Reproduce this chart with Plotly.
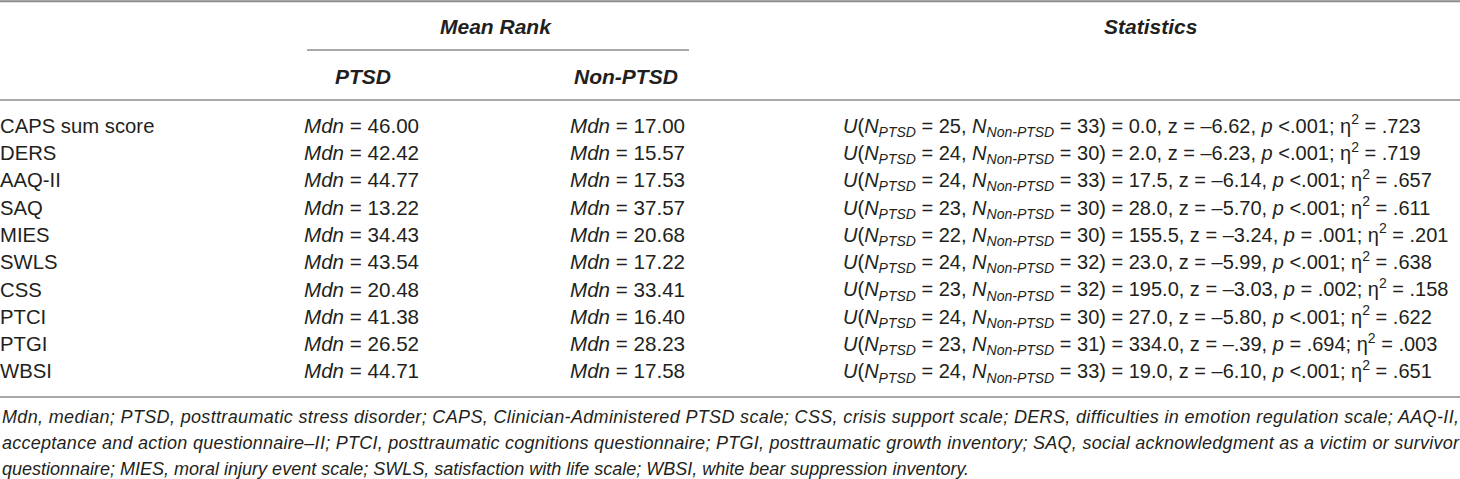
import plotly.graph_objects as go

W, H = 1460, 479

# ---- data ----
measures = ["CAPS sum score", "DERS", "AAQ-II", "SAQ", "MIES", "SWLS", "CSS", "PTCI", "PTGI", "WBSI"]
mdn_ptsd = [46.00, 42.42, 44.77, 13.22, 34.43, 43.54, 20.48, 41.38, 26.52, 44.71]
mdn_non_ptsd = [17.00, 15.57, 17.53, 37.57, 20.68, 17.22, 33.41, 16.40, 28.23, 17.58]
n_ptsd = [25, 24, 24, 23, 22, 24, 23, 24, 23, 24]
n_non_ptsd = [33, 30, 33, 30, 30, 32, 32, 30, 31, 33]
u_values = [0.0, 2.0, 17.5, 28.0, 155.5, 23.0, 195.0, 27.0, 334.0, 19.0]
z_values = [-6.62, -6.23, -6.14, -5.70, -3.24, -5.99, -3.03, -5.80, -0.39, -6.10]
p_values = ["<.001", "<.001", "<.001", "<.001", "= .001", "<.001", "= .002", "<.001", "= .694", "<.001"]
eta_sq = [0.723, 0.719, 0.657, 0.611, 0.201, 0.638, 0.158, 0.622, 0.003, 0.651]

header_group = "Mean Rank"
header_stats = "Statistics"
header_cols = ["PTSD", "Non-PTSD"]
footnote_lines = [
    "Mdn, median; PTSD, posttraumatic stress disorder; CAPS, Clinician-Administered PTSD scale; CSS, crisis support scale; DERS, difficulties in emotion regulation scale; AAQ-II,",
    "acceptance and action questionnaire–II; PTCI, posttraumatic cognitions questionnaire; PTGI, posttraumatic growth inventory; SAQ, social acknowledgment as a victim or survivor",
    "questionnaire; MIES, moral injury event scale; SWLS, satisfaction with life scale; WBSI, white bear suppression inventory.",
]

# ---- formatting ----
def fnum(v, nd):
    s = f"{abs(v):.{nd}f}"
    if abs(v) < 1:
        s = s[1:]
    return ("–" if v < 0 else "") + s

mdn_p_txt = [f"<i>Mdn</i> = {v:.2f}" for v in mdn_ptsd]
mdn_n_txt = [f"<i>Mdn</i> = {v:.2f}" for v in mdn_non_ptsd]
stats_txt = [
    f"<i>U</i>(<i>N<sub>PTSD</sub></i> = {a}, <i>N<sub>Non-PTSD</sub></i> = {b}) = {u:.1f}, z = {fnum(z, 2)}, "
    f"<i>p</i> {p}; η<sup>2</sup> = {fnum(e, 3)}"
    for a, b, u, z, p, e in zip(n_ptsd, n_non_ptsd, u_values, z_values, p_values, eta_sq)
]

FONT = "Liberation Sans"
TXT = "#231f20"
RULE = "#a8a8a8"

fig = go.Figure()
col_x = [0, 304, 570, 843]
col_fs = [20.3, 20.6, 20.6, 20.0]
for cx, fs, txt in zip(col_x, col_fs, [measures, mdn_p_txt, mdn_n_txt, stats_txt]):
    fig.add_trace(go.Scatter(
        x=[cx] * len(measures), y=measures, text=txt, mode="text",
        textposition="middle right", hoverinfo="skip", showlegend=False,
        textfont=dict(family=FONT, size=fs, color=TXT),
    ))

def py(ypx):
    return 1 - ypx / H

# headers
for txt, x, y in [(header_group, 496, 26), (header_stats, 1150, 26),
                  (header_cols[0], 363, 76), (header_cols[1], 626, 76)]:
    fig.add_annotation(x=x, y=py(y), xref="x", yref="paper", text=f"<b><i>{txt}</i></b>",
                       showarrow=False, xanchor="center", yanchor="middle",
                       font=dict(family=FONT, size=21, color=TXT))

# footnote
for i, line in enumerate(footnote_lines):
    fig.add_annotation(x=0, y=py(417 + 26 * i), xref="x", yref="paper", text=f"<i>{line}</i>",
                       showarrow=False, xanchor="left", yanchor="middle", align="left",
                       font=dict(family=FONT, size=18, color=TXT))

# rules
for x0, x1, y, c in [(0, W, 1.2, "#8c8c8c"), (307, 689, 50, RULE), (0, W, 100, RULE), (0, W, 397, RULE)]:
    fig.add_shape(type="line", x0=x0 / W, x1=x1 / W, y0=py(y), y1=py(y), xref="paper", yref="paper",
                  line=dict(color=c, width=2))

row_top, row_bot = 114.0, 387.0
fig.update_layout(
    width=W, height=H, margin=dict(l=0, r=0, t=0, b=0),
    paper_bgcolor="white", plot_bgcolor="white",
    xaxis=dict(range=[0, W], visible=False, fixedrange=True),
    yaxis=dict(type="category", categoryorder="array", categoryarray=measures,
               range=[len(measures) - 0.5, -0.5], visible=False, fixedrange=True,
               domain=[1 - row_bot / H, 1 - row_top / H]),
)

post = """
document.body.style.margin='0';
document.body.style.overflow='hidden';
document.querySelectorAll('.annotation-text').forEach(function(t){
  var s = t.textContent;
  if (s.indexOf('Mdn, median')===0 || s.indexOf('acceptance and action')===0) {
    t.setAttribute('textLength', '1457');
    t.setAttribute('lengthAdjust', 'spacing');
  }
});
"""
fig.write_html("out.html", post_script=post, config={"displayModeBar": False})
